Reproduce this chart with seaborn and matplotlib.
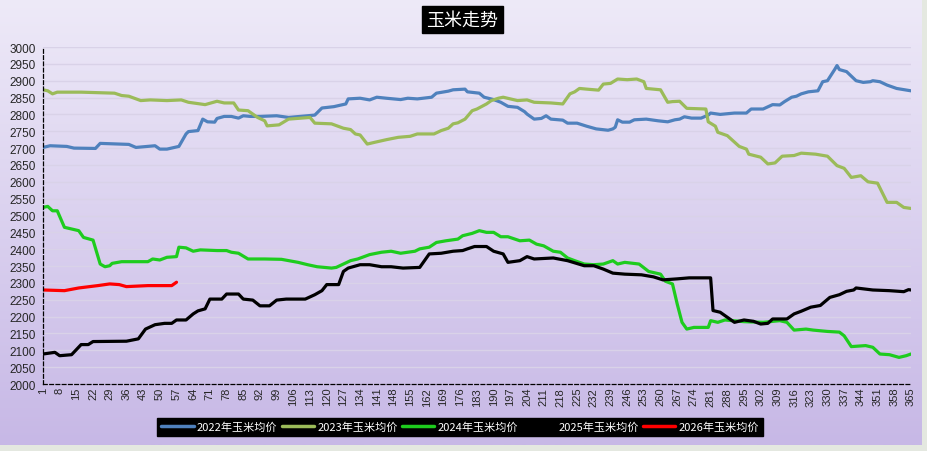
import numpy as np
import seaborn as sns
import matplotlib
matplotlib.use("Agg")
import matplotlib.pyplot as plt
from matplotlib.colors import LinearSegmentedColormap
from matplotlib.lines import Line2D
from matplotlib.patches import Rectangle

sns.set_style("white")
plt.rcParams['font.family'] = ['Noto Sans CJK SC', 'DejaVu Sans']

# ---------------------------------
# Data (day of year, price)
# ---------------------------------
days_2022 = [1, 4, 11, 14, 23, 25, 37, 40, 48, 50, 53, 58, 61, 62, 66, 68, 70, 73,
             74, 77, 80, 83, 85, 88, 92, 99, 104, 112, 115, 118, 123, 128, 129, 134,
             138, 141, 145, 151, 154, 158, 164, 166, 171, 173, 178, 179, 184, 186,
             190, 193, 196, 200, 203, 204, 207, 210, 212, 214, 219, 221, 225, 229,
             233, 238, 240, 241, 242, 244, 247, 249, 254, 259, 263, 266, 268, 270,
             273, 277, 280, 281, 285, 291, 296, 298, 303, 307, 310, 312, 315, 317,
             319, 322, 326, 328, 330, 333, 334, 335, 338, 342, 345, 348, 349, 352,
             355, 359, 365]
price_2022 = [2702, 2707, 2705, 2700, 2699, 2714, 2711, 2702, 2707, 2697, 2697, 2705,
              2742, 2749, 2752, 2786, 2778, 2777, 2788, 2794, 2794, 2789, 2796, 2794,
              2794, 2796, 2791, 2796, 2798, 2819, 2823, 2831, 2846, 2848, 2843, 2851,
              2848, 2844, 2848, 2846, 2851, 2863, 2869, 2873, 2875, 2867, 2863, 2851,
              2844, 2836, 2824, 2821, 2808, 2801, 2786, 2788, 2796, 2786, 2783, 2774,
              2774, 2765, 2757, 2753, 2757, 2762, 2784, 2777, 2777, 2784, 2786, 2781,
              2778, 2784, 2786, 2793, 2789, 2789, 2798, 2804, 2800, 2804, 2804, 2816,
              2816, 2829, 2828, 2838, 2851, 2854, 2861, 2867, 2870, 2897, 2900, 2933,
              2945, 2933, 2927, 2900, 2895, 2897, 2900, 2897, 2887, 2877, 2870]

days_2023 = [1, 3, 5, 7, 17, 31, 34, 37, 42, 46, 53, 59, 62, 69, 74, 77, 81, 83, 87,
             91, 94, 95, 100, 104, 113, 115, 122, 127, 130, 132, 134, 137, 140, 145,
             150, 155, 158, 165, 168, 171, 173, 175, 178, 181, 183, 187, 189, 192,
             194, 197, 200, 204, 207, 214, 219, 222, 224, 226, 229, 234, 236, 239,
             242, 246, 250, 253, 254, 260, 263, 265, 268, 271, 279, 280, 283, 284,
             288, 293, 296, 297, 302, 305, 308, 311, 316, 319, 325, 330, 334, 337,
             340, 344, 347, 351, 355, 359, 362, 365]
price_2023 = [2873, 2870, 2861, 2866, 2866, 2863, 2856, 2854, 2841, 2843, 2841, 2843,
              2836, 2829, 2839, 2834, 2834, 2813, 2811, 2791, 2781, 2766, 2769, 2786,
              2791, 2774, 2772, 2759, 2755, 2742, 2739, 2712, 2717, 2725, 2732, 2735,
              2742, 2742, 2752, 2759, 2772, 2775, 2786, 2811, 2816, 2831, 2841, 2848,
              2851, 2846, 2841, 2843, 2836, 2834, 2831, 2861, 2867, 2877, 2875, 2872,
              2890, 2892, 2905, 2903, 2905, 2897, 2877, 2873, 2836, 2838, 2839, 2818,
              2816, 2778, 2765, 2747, 2737, 2705, 2697, 2682, 2673, 2653, 2656, 2676,
              2678, 2685, 2682, 2676, 2648, 2640, 2613, 2618, 2600, 2596, 2539, 2539,
              2524, 2521]

days_2024 = [1, 3, 5, 7, 10, 13, 16, 18, 22, 25, 27, 29, 30, 34, 45, 47, 50, 53, 57,
             58, 61, 64, 67, 74, 78, 80, 83, 87, 94, 101, 108, 112, 116, 122, 124,
             127, 130, 133, 138, 143, 147, 151, 157, 159, 163, 166, 170, 175, 177,
             181, 184, 187, 190, 193, 196, 201, 205, 208, 211, 215, 218, 221, 224,
             228, 232, 236, 240, 242, 245, 251, 255, 260, 262, 265, 267, 269, 271,
             274, 280, 281, 284, 287, 295, 303, 310, 313, 316, 321, 324, 330, 335,
             337, 340, 346, 349, 352, 356, 360, 363, 365]
price_2024 = [2524, 2527, 2514, 2514, 2465, 2460, 2455, 2435, 2427, 2356, 2348, 2351,
              2358, 2363, 2363, 2371, 2368, 2376, 2378, 2406, 2404, 2394, 2398, 2396,
              2396, 2391, 2388, 2371, 2371, 2370, 2361, 2354, 2348, 2344, 2346, 2356,
              2366, 2371, 2384, 2391, 2394, 2388, 2394, 2401, 2406, 2420, 2425, 2430,
              2440, 2447, 2455, 2450, 2450, 2437, 2437, 2425, 2427, 2415, 2410, 2394,
              2391, 2374, 2366, 2356, 2354, 2356, 2366, 2356, 2361, 2356, 2334, 2326,
              2305, 2297, 2237, 2183, 2163, 2168, 2168, 2188, 2183, 2190, 2185, 2183,
              2188, 2183, 2160, 2163, 2160, 2156, 2154, 2143, 2111, 2114, 2109, 2089,
              2087, 2079, 2084, 2089]

days_2025 = [1, 6, 8, 13, 17, 20, 22, 36, 41, 44, 48, 52, 55, 57, 61, 64, 66, 69, 71,
             76, 78, 83, 85, 89, 92, 96, 99, 103, 111, 115, 118, 120, 125, 127, 129,
             134, 138, 143, 147, 152, 159, 163, 168, 173, 177, 179, 182, 187, 190,
             194, 196, 201, 204, 207, 215, 221, 228, 232, 236, 240, 245, 252, 257,
             261, 267, 272, 281, 282, 285, 288, 291, 295, 299, 302, 305, 307, 313,
             316, 319, 323, 327, 331, 335, 338, 341, 342, 349, 356, 362, 364, 365]
price_2025 = [2089, 2094, 2084, 2087, 2117, 2117, 2126, 2127, 2134, 2163, 2176, 2180,
              2180, 2190, 2190, 2208, 2217, 2223, 2252, 2252, 2267, 2267, 2252, 2249,
              2232, 2232, 2249, 2252, 2252, 2265, 2277, 2295, 2295, 2334, 2344, 2354,
              2354, 2348, 2348, 2344, 2346, 2386, 2388, 2394, 2396, 2401, 2408, 2408,
              2394, 2386, 2361, 2366, 2378, 2371, 2374, 2366, 2351, 2351, 2341, 2329,
              2326, 2324, 2318, 2309, 2312, 2315, 2315, 2218, 2213, 2198, 2183, 2190,
              2186, 2178, 2180, 2193, 2193, 2208, 2216, 2228, 2233, 2257, 2265, 2275,
              2279, 2285, 2279, 2277, 2274, 2280, 2279]

days_2026 = [1, 10, 16, 24, 29, 33, 36, 45, 55, 57]
price_2026 = [2279, 2277, 2285, 2292, 2297, 2295, 2289, 2292, 2292, 2302]

labels = ['2022年玉米均价', '2023年玉米均价', '2024年玉米均价', '2025年玉米均价', '2026年玉米均价']
colors = ['#4F81BD', '#9BBB59', '#1ECC1E', '#000000', '#FF0000']
x_ticks = list(range(1, 366, 7))
y_ticks = list(range(2000, 3001, 50))

series = [(days_2022, price_2022), (days_2023, price_2023), (days_2024, price_2024),
          (days_2025, price_2025), (days_2026, price_2026)]

# ---------------------------------
# Plot
# ---------------------------------
fig = plt.figure(figsize=(9.28, 4.52), dpi=100)

# Gradient background (chart area) and the sheet strip around it
bg = fig.add_axes([0, 0, 1, 1], zorder=-10)
bg.axis('off')
bg.set_xlim(0, 1)
bg.set_ylim(0, 1)
cmap = LinearSegmentedColormap.from_list('bg', ['#EEEAF8', '#C7B8E6'])
bg.imshow(np.linspace(0, 1, 256)[:, None], aspect='auto', cmap=cmap,
          extent=[0, 0.994, 0.013, 1])
bg.add_patch(Rectangle((0, 0), 1, 0.013, color='#E4E8E0', lw=0))
bg.add_patch(Rectangle((0.994, 0), 0.006, 1, color='#E4E8E0', lw=0))

ax = fig.add_axes([0.0463, 0.1482, 0.9353, 0.7456])
ax.patch.set_alpha(0)

for (d, p), lab, c in zip(series, labels, colors):
    sns.lineplot(x=d, y=p, color=c, linewidth=2.3, ax=ax, label=lab, legend=False)

ax.set_xlim(1, 365)
ax.set_ylim(2000, 3000)
ax.set_xticks(x_ticks)
ax.set_xticklabels([str(t) for t in x_ticks], rotation=90, fontsize=8,
                   family=['Liberation Sans'])
ax.set_yticks(y_ticks)
ax.set_yticklabels([str(t) for t in y_ticks], fontsize=8.5,
                   family=['Liberation Sans'])
ax.tick_params(axis='both', length=3, width=0.8, color='black', pad=2)
ax.tick_params(axis='x', direction='in')
ax.yaxis.grid(True, color='#D9D2E8', linewidth=1)
ax.xaxis.grid(False)
ax.set_axisbelow(True)
ax.set(xlabel='', ylabel='')
for side in ['top', 'right']:
    ax.spines[side].set_visible(False)
for side in ['left', 'bottom']:
    ax.spines[side].set_linestyle((0, (3, 2)))
    ax.spines[side].set_color('black')
    ax.spines[side].set_linewidth(0.9)

# Title
fig.text(0.498, 0.955, '玉米走势', color='white', fontsize=13, ha='center', va='center',
         bbox=dict(facecolor='black', edgecolor='black', boxstyle='square,pad=0.25'))

# Legend
handles = [Line2D([0], [0], color=c, linewidth=2.5) for c in colors]
leg = fig.legend(handles, labels, ncol=5, loc='center', bbox_to_anchor=(0.496, 0.053),
                 fontsize=8, frameon=True, fancybox=False, facecolor='black',
                 edgecolor='black', framealpha=1, labelcolor='white',
                 handlelength=2.9, handletextpad=0.3, columnspacing=0.4,
                 borderpad=0.35)

fig.savefig('out.png', dpi=100)
